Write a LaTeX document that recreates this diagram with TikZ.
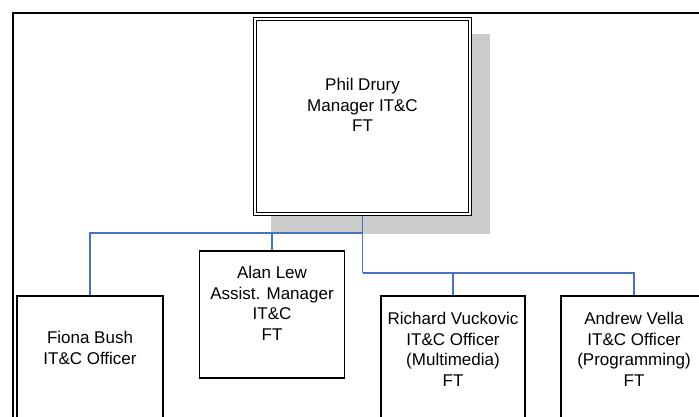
\documentclass[tikz,border=0pt]{standalone}
\usepackage{fontspec}
\setmainfont{Liberation Sans}
\usetikzlibrary{backgrounds}
\definecolor{conn}{RGB}{70,114,196}
\definecolor{shadowgray}{RGB}{204,204,204}
\begin{document}
\begin{tikzpicture}[x=1pt,y=-1pt,
  box/.style={draw=black,line width=1.1pt,fill=white,inner sep=0pt,outer sep=0pt,rectangle},
  mgrbox/.style={draw=black,line width=1.2pt,double=white,double distance=2.2pt,fill=white,inner sep=0pt,outer sep=0pt,rectangle,minimum width=215pt,minimum height=195pt},
  lbl/.style={inner sep=0pt,align=center,font=\fontsize{17}{20.5}\selectfont},
  link/.style={draw=conn,line width=1.4pt}]
\useasboundingbox (0,0) rectangle (699,417);
\clip (0,0) rectangle (699,417);
% outer frame
\draw[line width=2pt] (13,440) -- (13,12.7) -- (720,12.7);
% boxes
\node[mgrbox] (phil) at (362.5,116.5) {};
\node[box,minimum width=145pt,minimum height=127pt] (alan) at (272,314.5) {};
\node[box,anchor=north,minimum width=146pt,minimum height=160pt] (fiona) at (90,296) {};
\node[box,anchor=north,minimum width=144pt,minimum height=160pt] (richard) at (453,296) {};
\node[box,anchor=north,minimum width=146pt,minimum height=160pt] (andrew) at (634,296) {};
% texts
\node[lbl] (philt) at (362.5,105) {Phil Drury\\Manager IT\&C\\FT};
\node[lbl] (alant) at (272,303.5) {Alan Lew\\Assist. Manager\\IT\&C\\FT};
\node[lbl] (fionat) at (90,348) {Fiona Bush\\IT\&C Officer};
\node[lbl] (richardt) at (453,349.5) {Richard Vuckovic\\IT\&C Officer\\(Multimedia)\\FT};
\node[lbl] (andrewt) at (634,349.5) {Andrew Vella\\IT\&C Officer\\(Programming)\\FT};
\coordinate (j1) at (362.5,233);
\coordinate (j2) at (362.5,273);
\begin{scope}[on background layer]
\fill[shadowgray] (271,34) rectangle (490,234);
\draw[link] (phil.south) -- (j2);
\draw[link] (fiona.north) |- (j1);
\draw[link] (alan.north) -- (alan.north |- j1);
\draw[link] (richard.north) |- (j2);
\draw[link] (andrew.north) |- (j2);
\end{scope}
\end{tikzpicture}
\end{document}
